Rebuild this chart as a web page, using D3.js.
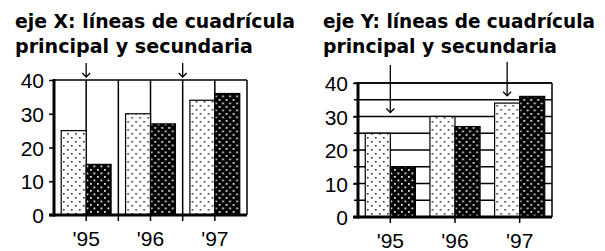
<!DOCTYPE html>
<html>
<head>
<meta charset="utf-8">
<script src="https://cdn.jsdelivr.net/npm/d3@7"></script>
<style>
  html, body { margin: 0; padding: 0; background: #fff; }
  svg { display: block; }
</style>
</head>
<body>
<svg id="chart" width="605" height="251"></svg>
<script>
// ---- data ----
const categories = ["'95", "'96", "'97"];
const seriesNames = ["A", "B"];
const seriesA = [25, 30, 34];
const seriesB = [15, 27, 36];
const yTicks = [0, 10, 20, 30, 40];
const yMinorTicks = [0, 5, 10, 15, 20, 25, 30, 35, 40];
const titleLeft = ["eje X: líneas de cuadrícula", "principal y secundaria"];
const titleRight = ["eje Y: líneas de cuadrícula", "principal y secundaria"];

const svg = d3.select("#chart");
const defs = svg.append("defs");

// light dotted pattern
const pL = defs.append("pattern").attr("id", "pLight").attr("patternUnits", "userSpaceOnUse")
  .attr("width", 8).attr("height", 8);
pL.append("rect").attr("width", 8).attr("height", 8).attr("fill", "#fff");
[[1,1],[5,5]].forEach(([x,y]) => pL.append("rect").attr("x", x).attr("y", y).attr("width", 1.6).attr("height", 1.6).attr("fill", "#333"));
// dark dotted pattern
const pD = defs.append("pattern").attr("id", "pDark").attr("patternUnits", "userSpaceOnUse")
  .attr("width", 7).attr("height", 7);
pD.append("rect").attr("width", 7).attr("height", 7).attr("fill", "#000");
[[1,1],[4.5,4.5]].forEach(([x,y]) => pD.append("rect").attr("x", x).attr("y", y).attr("width", 1.8).attr("height", 1.8).attr("fill", "#e0e0e0"));

const fills = ["url(#pLight)", "url(#pDark)"];
const data = categories.map((c, i) => ({ cat: c, vals: [seriesA[i], seriesB[i]] }));

function drawTitle(lines, x, width1, width2) {
  const t = svg.append("g").attr("font-family", "'DejaVu Sans', 'Liberation Sans', Arial, sans-serif")
    .attr("font-weight", "bold").attr("font-size", 19).attr("fill", "#000");
  t.append("text").attr("x", x).attr("y", 28).attr("textLength", width1)
    .attr("lengthAdjust", "spacingAndGlyphs").text(lines[0]);
  t.append("text").attr("x", x).attr("y", 53).attr("textLength", width2)
    .attr("lengthAdjust", "spacingAndGlyphs").text(lines[1]);
}

function arrow(x, y1, y2) {
  const g = svg.append("g").attr("stroke", "#000").attr("stroke-width", 1.3).attr("fill", "none");
  g.append("line").attr("x1", x).attr("x2", x).attr("y1", y1).attr("y2", y2);
  g.append("path").attr("d", `M${x-4},${y2-4} L${x},${y2} L${x+4},${y2-4}`);
}

function drawChart(opts) {
  const x = d3.scaleBand().domain(categories).range([opts.x0, opts.x1]).padding(0);
  const xs = d3.scaleBand().domain(seriesNames).range([0, x.bandwidth()]).paddingInner(0).paddingOuter(0.29);
  const y = d3.scaleLinear().domain([0, 40]).range([opts.y0, opts.y1]);
  const g = svg.append("g");

  if (opts.mode === "x") {
    const centers = categories.map(c => x(c) + x.bandwidth() / 2);
    const bounds = categories.slice(1).map(c => x(c));
    g.selectAll(".vg").data(centers.concat(bounds)).join("line")
      .attr("x1", d => d).attr("x2", d => d).attr("y1", y(40)).attr("y2", y(0) + 6)
      .attr("stroke", "#000").attr("stroke-width", 1.5);
  } else {
    g.selectAll(".hg").data(yMinorTicks).join("line")
      .attr("x1", opts.x0 - 4).attr("x2", opts.x1).attr("y1", d => y(d)).attr("y2", d => y(d))
      .attr("stroke", "#000").attr("stroke-width", 1.5);
    g.selectAll(".xt").data(categories).join("line")
      .attr("x1", d => x(d) + x.bandwidth() / 2).attr("x2", d => x(d) + x.bandwidth() / 2)
      .attr("y1", y(0)).attr("y2", y(0) + 6)
      .attr("stroke", "#000").attr("stroke-width", 1.5);
  }

  g.append("line").attr("x1", opts.x0).attr("x2", opts.x1).attr("y1", y(40)).attr("y2", y(40))
    .attr("stroke", "#000").attr("stroke-width", 1.5);
  g.append("line").attr("x1", opts.x1).attr("x2", opts.x1).attr("y1", y(40)).attr("y2", y(0))
    .attr("stroke", "#000").attr("stroke-width", 1.5);

  const grp = g.selectAll(".grp").data(data).join("g").attr("transform", d => `translate(${x(d.cat)},0)`);
  grp.selectAll("rect").data(d => d.vals.map((v, i) => ({ v, s: seriesNames[i], i }))).join("rect")
    .attr("x", d => xs(d.s)).attr("width", xs.bandwidth())
    .attr("y", d => y(d.v)).attr("height", d => y(0) - y(d.v))
    .attr("fill", d => fills[d.i]).attr("stroke", "#000").attr("stroke-width", 1.2);

  const yAxis = d3.axisLeft(y).tickValues(yTicks).tickSize(5).tickPadding(5).tickFormat(d3.format("d"));
  const ya = g.append("g").attr("transform", `translate(${opts.x0},0)`).call(yAxis);
  ya.select(".domain").remove();
  ya.selectAll(".tick line").attr("stroke", "#000").attr("stroke-width", 1.5);
  ya.selectAll("text").attr("font-family", "'Liberation Sans', Arial, sans-serif").attr("font-size", 21)
    .attr("fill", "#000").attr("dy", "0.36em");
  g.append("line").attr("x1", opts.x0).attr("x2", opts.x0).attr("y1", y(40) - 1).attr("y2", y(0) + 1.5)
    .attr("stroke", "#000").attr("stroke-width", 3);

  const xAxis = d3.axisBottom(x).tickSize(0).tickPadding(16);
  const xa = g.append("g").attr("transform", `translate(0,${y(0)})`).call(xAxis);
  xa.select(".domain").remove();
  xa.selectAll("text").attr("font-family", "'Liberation Sans', Arial, sans-serif").attr("font-size", 21)
    .attr("fill", "#000");
  g.append("line").attr("x1", opts.x0 - 5).attr("x2", opts.x1).attr("y1", y(0)).attr("y2", y(0))
    .attr("stroke", "#000").attr("stroke-width", 3);

  return { x, xs, y };
}

drawTitle(titleLeft, 15, 280, 238);
drawTitle(titleRight, 323, 272, 234);

const L = drawChart({ mode: "x", x0: 54, x1: 247, y0: 215, y1: 80 });
const R = drawChart({ mode: "y", x0: 358, x1: 552, y0: 217, y1: 83 });

arrow(L.x("'95") + L.x.bandwidth() / 2, 63, L.y(40) - 3);
arrow(L.x("'97"), 63, L.y(40) - 3);
arrow(R.x("'95") + R.x.bandwidth() / 2, 65, R.y(30) - 4);
arrow(R.x("'97") + R.xs("A") + R.xs.bandwidth() / 2, 62, R.y(35) - 4);
</script>
</body>
</html>
